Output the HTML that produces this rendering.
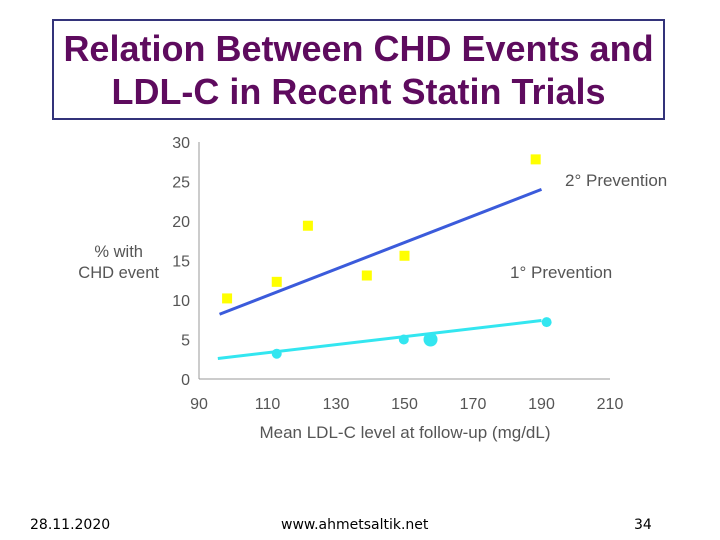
<!DOCTYPE html>
<html><head><meta charset="utf-8"><style>
body{margin:0;width:720px;height:540px;background:#fff;position:relative;overflow:hidden;font-family:"Liberation Sans",Arial,sans-serif}
#title{position:absolute;left:52px;top:19px;width:609px;border:2px solid #33337a;text-align:center;color:#5e0b5e;font-weight:bold;font-size:36px;line-height:43px;padding-top:6px;height:91px}
.f{position:absolute;top:517px;font-family:"DejaVu Sans",sans-serif;font-size:14px;color:#000}
</style></head><body>
<div id="title">Relation Between CHD Events and<br>LDL-C in Recent Statin Trials</div>
<svg id="chart" width="720" height="540" style="position:absolute;left:0;top:0">
<g id="g"></g>
</svg>
<div class="f" style="left:30px">28.11.2020</div>
<div class="f" style="left:281px">www.ahmetsaltik.net</div>
<div class="f" style="left:634px">34</div>
<script>
const xTicks=[90,110,130,150,170,190,210];
const yTicks=[0,5,10,15,20,25,30];
const secX=[98.2,112.7,121.8,139,150,188.3];
const secY=[10.2,12.3,19.4,13.1,15.6,27.8];
const priX=[112.7,149.8,157.6,191.5];
const priY=[3.2,5.0,5.0,7.2];
const priR=[5,5,7,5];
const secFitX=[96,190];
const secFitY=[8.2,24.0];
const priFitX=[95.5,190];
const priFitY=[2.6,7.4];
const X=v=>199+(v-90)*(411/120);
const Y=v=>379-v*(237/30);
const NS='http://www.w3.org/2000/svg';
const g=document.getElementById('g');
function mk(t,a,txt){const e=document.createElementNS(NS,t);for(const k in a)e.setAttribute(k,a[k]);if(txt!==undefined)e.textContent=txt;g.appendChild(e);return e;}
let e;
e=mk('line',{x1:199,y1:Y(30),x2:199,y2:Y(0),stroke:'#999','stroke-width':1});


e=mk('line',{x1:199,y1:Y(0),x2:X(210),y2:Y(0),stroke:'#999','stroke-width':1});


yTicks.forEach(v=>{e=mk('text',{x:190,y:Y(v)+6,'text-anchor':'end','font-size':16,fill:'#555'},String(v));

});
xTicks.forEach(v=>{e=mk('text',{x:X(v),y:409,'text-anchor':'middle','font-size':16,fill:'#555'},String(v));

});
e=mk('line',{x1:X(secFitX[0]),y1:Y(secFitY[0]),x2:X(secFitX[1]),y2:Y(secFitY[1]),stroke:'#3b5bdb','stroke-width':3});


e=mk('line',{x1:X(priFitX[0]),y1:Y(priFitY[0]),x2:X(priFitX[1]),y2:Y(priFitY[1]),stroke:'#33e6f0','stroke-width':3});


secX.forEach((v,i)=>{e=mk('rect',{x:X(v)-5,y:Y(secY[i])-5,width:10,height:10,fill:'#ffff00'});

});
priX.forEach((v,i)=>{e=mk('circle',{cx:X(v),cy:Y(priY[i]),r:priR[i],fill:'#33e6f0'});

});
e=mk('text',{x:565,y:186,'font-size':17,fill:'#555'},'2° Prevention');


e=mk('text',{x:510,y:278,'font-size':17,fill:'#555'},'1° Prevention');


e=mk('text',{x:143,y:257,'text-anchor':'end','font-size':16.5,fill:'#555'},'% with');


e=mk('text',{x:159,y:278,'text-anchor':'end','font-size':16.5,fill:'#555'},'CHD event');


e=mk('text',{x:405,y:438,'text-anchor':'middle','font-size':17,fill:'#555'},'Mean LDL-C level at follow-up (mg/dL)');


</script>
</body></html>
